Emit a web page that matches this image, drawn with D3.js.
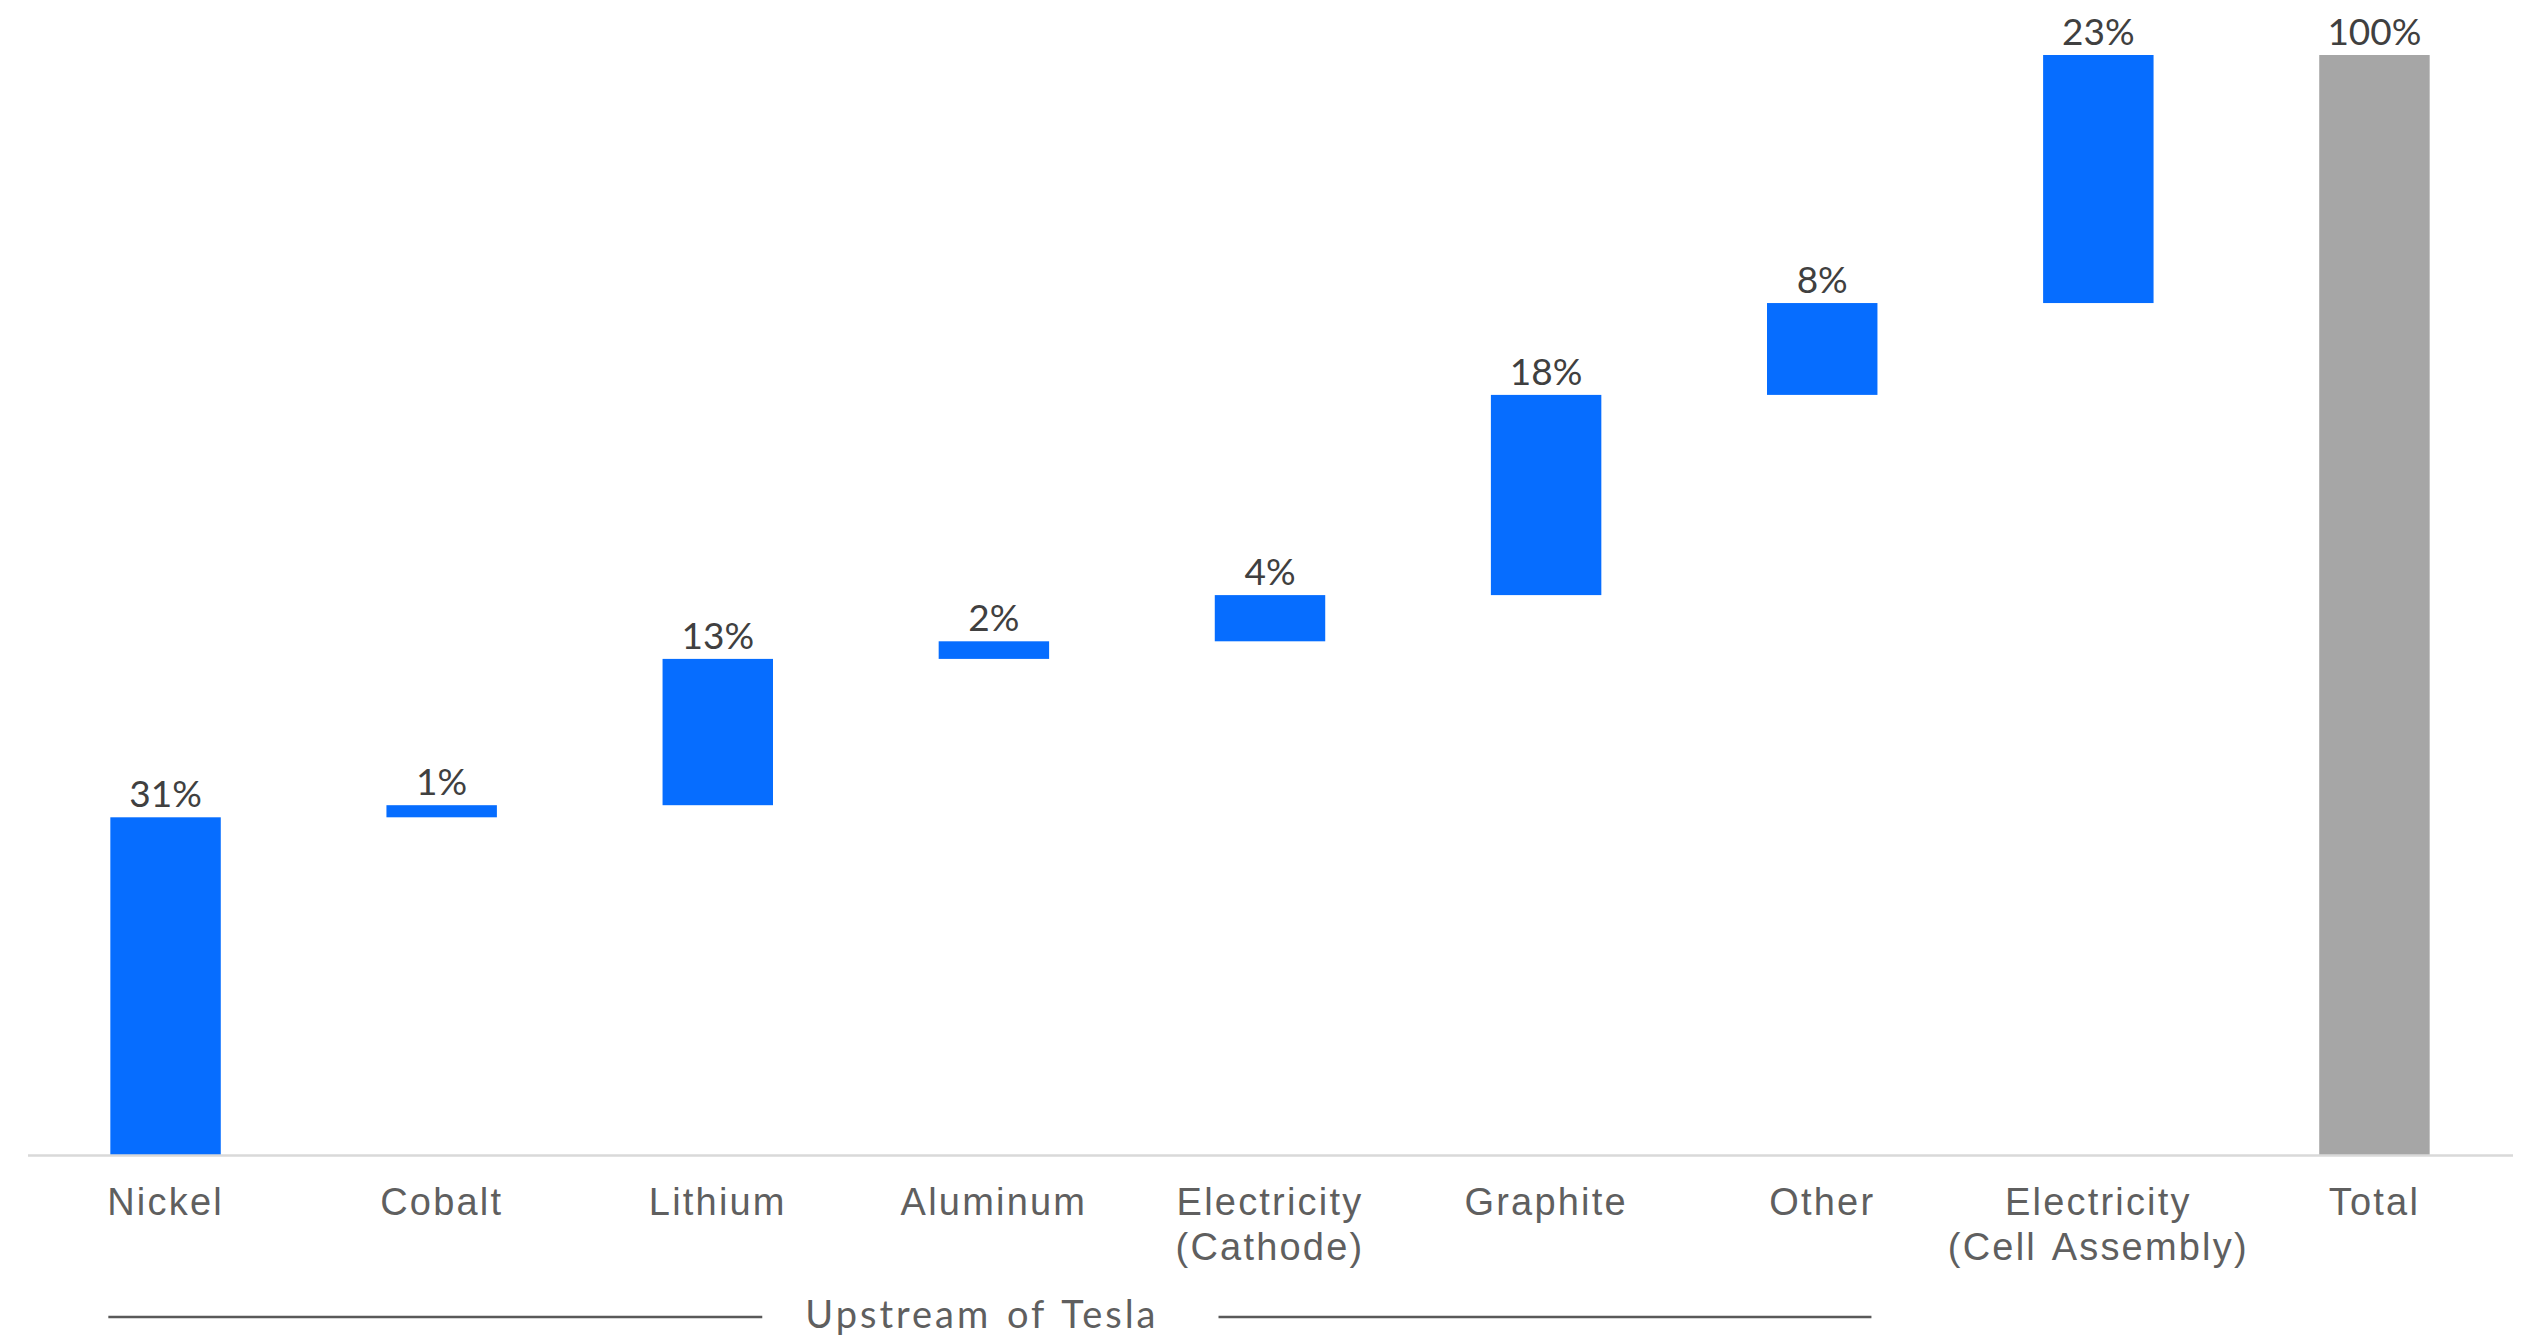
<!DOCTYPE html>
<html>
<head>
<meta charset="utf-8">
<script src="https://cdn.jsdelivr.net/npm/d3@7"></script>
<style>
  body { margin: 0; background: #fff; }
  svg { display: block; font-family: Lato, "Noto Sans", sans-serif; }
  .axis .domain { stroke: #d9d9d9; stroke-width: 2.5; }
  .axis text { fill: #5f5f5f; font-size: 38px; letter-spacing: 2.2px; word-spacing: 4px; }
  .value-label { fill: #404040; font-size: 37px; }
  .bracket-label { fill: #5f5f5f; font-size: 38px; letter-spacing: 3px; word-spacing: 3px; }
</style>
</head>
<body>
<svg id="chart"></svg>
<script>
// Battery cell CO2 breakdown (waterfall), share of total in %
const categories = ['Nickel', 'Cobalt', 'Lithium', 'Aluminum', 'Electricity\n(Cathode)',
  'Graphite', 'Other', 'Electricity\n(Cell Assembly)', 'Total'];
const shares = [30.7, 1.1, 13.3, 1.6, 4.2, 18.2, 8.35, 22.55];
const totalLabel = 'Total';
const bracketText = 'Upstream of Tesla';
const bracketFrom = 'Nickel';
const bracketTo = 'Other';

const width = 2521;
const height = 1335;
const margin = { top: 55, bottom: 180 };

const svg = d3.select('#chart')
  .attr('width', width)
  .attr('height', height);

// build running start/end for each step, then the total bar
let running = 0;
const steps = shares.map((v, i) => {
  const d = { name: categories[i], start: running, end: running + v, value: v, total: false };
  running += v;
  return d;
});
steps.push({ name: totalLabel, start: 0, end: running, value: running, total: true });

const x = d3.scaleBand()
  .domain(categories)
  .range([27.5, 2512.5])
  .paddingInner(0.6)
  .paddingOuter(0.3);

const y = d3.scaleLinear()
  .domain([0, 100])
  .range([height - margin.bottom, margin.top]);

// bars
svg.append('g')
  .selectAll('rect')
  .data(steps)
  .join('rect')
  .attr('x', (d) => x(d.name))
  .attr('width', x.bandwidth())
  .attr('y', (d) => y(d.end))
  .attr('height', (d) => y(d.start) - y(d.end))
  .attr('fill', (d) => (d.total ? '#a6a6a6' : '#066dff'));

// value labels
svg.append('g')
  .selectAll('text')
  .data(steps)
  .join('text')
  .attr('class', 'value-label')
  .attr('text-anchor', 'middle')
  .attr('x', (d) => x(d.name) + x.bandwidth() / 2)
  .attr('y', (d) => y(d.end) - 10)
  .text((d) => `${Math.round(d.value)}%`);

// x axis with two-line labels
const xAxis = d3.axisBottom(x).tickSize(0).tickSizeOuter(0);
const xAxisG = svg.append('g')
  .attr('class', 'axis x-axis')
  .attr('transform', `translate(0,${y(0)})`)
  .call(xAxis);

xAxisG.selectAll('.tick text')
  .attr('y', 60)
  .attr('dy', 0)
  .text(null)
  .each(function (d) {
    const t = d3.select(this);
    d.split('\n').forEach((line, i) => {
      t.append('tspan')
        .attr('x', 0)
        .attr('dy', i === 0 ? 0 : 45)
        .text(line);
    });
  });

// "Upstream of Tesla" bracket
const bx0 = x(bracketFrom) - 2;
const bx1 = x(bracketTo) + x.bandwidth() - 6;
const bMid = (bx0 + bx1) / 2 - 8;
const bracket = svg.append('g').attr('class', 'bracket');
const bLabel = bracket.append('text')
  .attr('class', 'bracket-label')
  .attr('text-anchor', 'middle')
  .attr('x', bMid)
  .attr('y', 1328)
  .text(bracketText);
const bw = bLabel.node().getComputedTextLength();
bracket.append('line')
  .attr('x1', bx0).attr('x2', bMid - bw / 2 - 43)
  .attr('y1', 1317).attr('y2', 1317)
  .attr('stroke', '#595959').attr('stroke-width', 2.5);
bracket.append('line')
  .attr('x1', bMid + bw / 2 + 60).attr('x2', bx1)
  .attr('y1', 1317).attr('y2', 1317)
  .attr('stroke', '#595959').attr('stroke-width', 2.5);
</script>
</body>
</html>
